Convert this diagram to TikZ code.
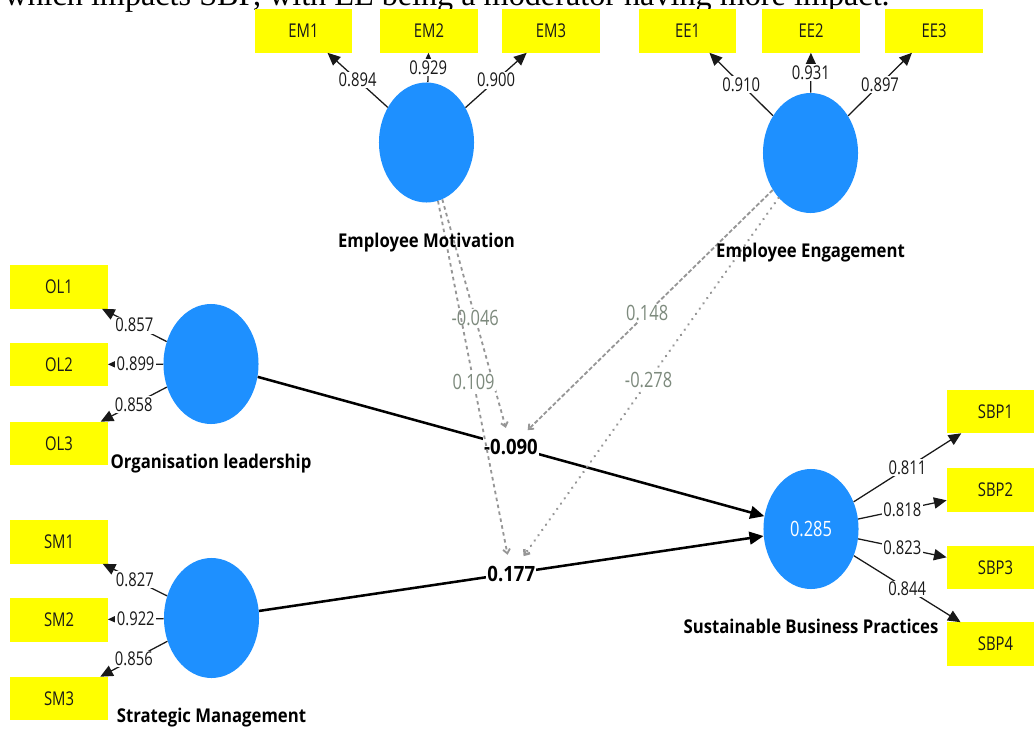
\documentclass[tikz,border=0pt]{standalone}
\usepackage{fontspec}
\setmainfont{Open Sans}[FakeStretch=0.78]
\newfontfamily\namefont{Open Sans}[FakeStretch=0.88]
\newfontfamily\captionfont{Liberation Serif}
\usetikzlibrary{shapes.geometric, arrows.meta, positioning}
\definecolor{plsblue}{RGB}{30,144,255}
\definecolor{plsyellow}{RGB}{255,255,0}
\definecolor{plsgray}{RGB}{150,150,150}
\definecolor{plsgreen}{RGB}{125,138,125}
\definecolor{plsdark}{RGB}{25,25,25}
\tikzset{
  latent/.style={ellipse, fill=plsblue, minimum width=2.375cm, minimum height=3cm,
    inner sep=0pt, text=white, font=\fontsize{15}{18}\selectfont},
  indicator/.style={rectangle, fill=plsyellow, minimum width=2.43cm, minimum height=1.075cm,
    inner sep=0pt, text=plsdark, font=\fontsize{13.5}{16}\selectfont},
  lvname/.style={inner sep=1pt, text height=10pt, text depth=3pt,
    font=\namefont\bfseries\fontsize{13.5}{16}\selectfont, text=black},
  loading/.style={fill=white, inner sep=1pt, font=\fontsize{13.5}{16}\selectfont, text=plsdark},
  coef/.style={fill=white, inner sep=1pt, font=\namefont\bfseries\fontsize{15}{18}\selectfont, text=black},
  modcoef/.style={fill=white, inner sep=1pt, font=\fontsize{15}{18}\selectfont, text=plsgreen},
  loadarrow/.style={-{Triangle[length=9pt, width=8pt]}, line width=0.9pt, color=plsdark},
  patharrow/.style={-{Triangle[length=10pt, width=9pt]}, line width=1.8pt, color=black},
  modline/.style={-{Straight Barb[length=3pt, width=5pt]}, line width=1.3pt, color=plsgray, shorten >=6pt}
}
\begin{document}
\begin{tikzpicture}[x=0.025cm, y=-0.025cm]
  \useasboundingbox (0,0) rectangle (1034,729);
  \clip (0,0) rectangle (1034,729);

  % caption line, cut by the crop
  \node[anchor=base west, inner sep=0pt, font=\captionfont\fontsize{22.9}{26}\selectfont] (caption) at (4,6)
    {which impacts SBP, with EE being a moderator having more impact.};

  % constructs
  \node[latent] (em) at (426.5,142.5) {};
  \node[latent] (ee) at (810.5,153) {};
  \node[latent] (ol) at (211,364) {};
  \node[latent] (sm) at (211.5,618) {};
  \node[latent] (sbp) at (811,529) {0.285};

  % indicators
  \node[indicator] (em1) at (303.5,31) {EM1};
  \node[indicator] (em2) at (429,31) {EM2};
  \node[indicator] (em3) at (551,31) {EM3};
  \node[indicator] (ee1) at (687.5,31) {EE1};
  \node[indicator] (ee2) at (811,31) {EE2};
  \node[indicator] (ee3) at (934,31) {EE3};
  \node[indicator] (ol1) at (59,287) {OL1};
  \node[indicator] (ol2) at (59,364.5) {OL2};
  \node[indicator] (ol3) at (59,443.5) {OL3};
  \node[indicator] (sm1) at (59,542) {SM1};
  \node[indicator] (sm2) at (59,620) {SM2};
  \node[indicator] (sm3) at (59,698.5) {SM3};
  \node[indicator] (sbp1) at (995.5,411.5) {SBP1};
  \node[indicator] (sbp2) at (995.5,490) {SBP2};
  \node[indicator] (sbp3) at (995.5,567.5) {SBP3};
  \node[indicator] (sbp4) at (995.5,644) {SBP4};

  % outer loadings
  \draw[loadarrow] (em) -- node[loading] {0.894} (em1);
  \draw[loadarrow] (em) -- node[loading] {0.929} (em2);
  \draw[loadarrow] (em) -- node[loading] {0.900} (em3);
  \draw[loadarrow] (ee) -- node[loading] {0.910} (ee1);
  \draw[loadarrow] (ee) -- node[loading] {0.931} (ee2);
  \draw[loadarrow] (ee) -- node[loading] {0.897} (ee3);
  \draw[loadarrow] (ol) -- node[loading] {0.857} (ol1);
  \draw[loadarrow] (ol) -- node[loading] {0.899} (ol2);
  \draw[loadarrow] (ol) -- node[loading] {0.858} (ol3);
  \draw[loadarrow] (sm) -- node[loading] {0.827} (sm1);
  \draw[loadarrow] (sm) -- node[loading] {0.922} (sm2);
  \draw[loadarrow] (sm) -- node[loading] {0.856} (sm3);
  \draw[loadarrow] (sbp) -- node[loading] {0.811} (sbp1);
  \draw[loadarrow] (sbp) -- node[loading] {0.818} (sbp2);
  \draw[loadarrow] (sbp) -- node[loading] {0.823} (sbp3);
  \draw[loadarrow] (sbp) -- node[loading] {0.844} (sbp4);

  % structural paths
  \draw[patharrow] (ol) -- node[coef] (pol) {-0.090} (sbp);
  \draw[patharrow] (sm) -- node[coef] (psm) {0.177} (sbp);

  % moderating effects
  \draw[modline, dash pattern=on 2.5pt off 2.5pt] (em) -- node[modcoef] {-0.046} (pol);
  \draw[modline, dash pattern=on 2.5pt off 2.5pt] (em) -- node[modcoef] {0.109} (psm);
  \draw[modline, dash pattern=on 3pt off 1.5pt] (ee) -- node[modcoef] {0.148} (pol);
  \draw[modline, line width=1.8pt, line cap=round, dash pattern=on 0.1pt off 4.5pt] (ee) -- node[modcoef] {-0.278} (psm);

  % construct names
  \node[lvname, below=0.715cm of em] (emname) {Employee Motivation};
  \node[lvname, below=0.715cm of ee] (eename) {Employee Engagement};
  \node[lvname, below=0.715cm of ol] (olname) {Organisation leadership};
  \node[lvname, below=0.715cm of sm] (smname) {Strategic Management};
  \node[lvname, below=0.715cm of sbp] (sbpname) {Sustainable Business Practices};
\end{tikzpicture}
\end{document}
